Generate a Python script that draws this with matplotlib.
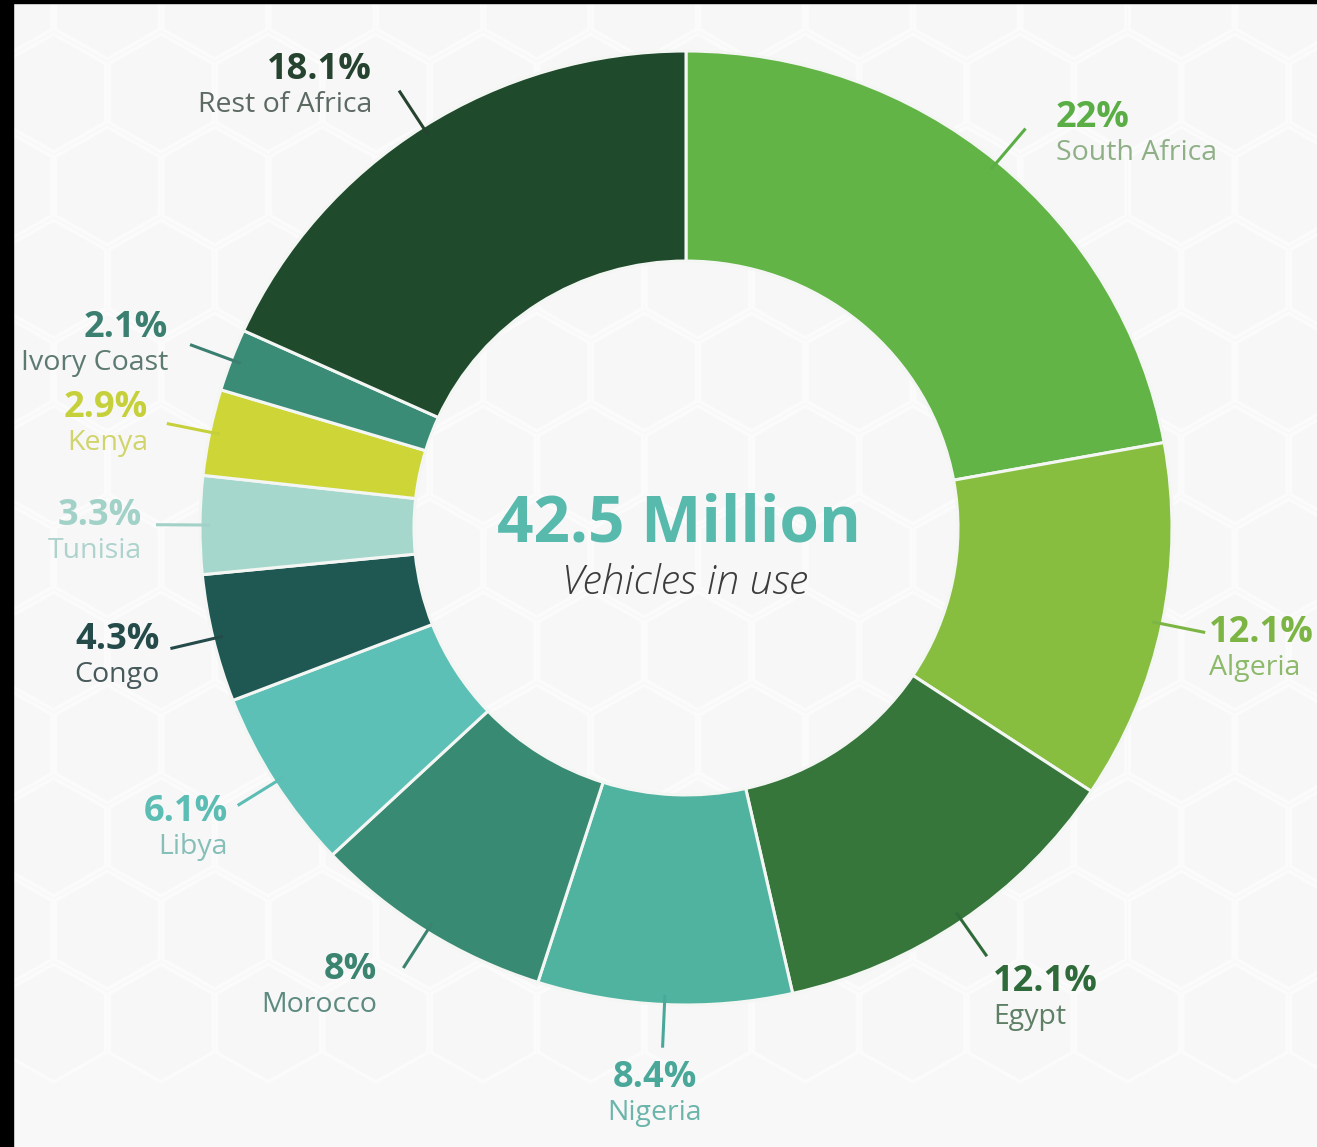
import numpy as np
import matplotlib.pyplot as plt
from matplotlib.patches import Rectangle, RegularPolygon

plt.rcParams["font.family"] = ["Open Sans", "DejaVu Sans"]

W, H = 1317, 1147

# share of vehicles in use, clockwise from 12 o'clock
countries = ["South Africa", "Algeria", "Egypt", "Nigeria", "Morocco", "Libya",
             "Congo", "Tunisia", "Kenya", "Ivory Coast", "Rest of Africa"]
shares = [22, 12.1, 12.1, 8.4, 8, 6.1, 4.3, 3.3, 2.9, 2.1, 18.1]
total_label = "42.5 Million"
sub_label = "Vehicles in use"

slice_colors = ["#62b446", "#87be3f", "#36763b", "#50b3a0", "#398a73", "#5cc0b6",
                "#1f5753", "#a5d7cd", "#cdd636", "#3a8c77", "#1f4a2b"]
pct_colors = ["#5aae45", "#7db545", "#2f6b3a", "#4aa89a", "#3a8470", "#5bbdb3",
              "#244b4a", "#a2d1c8", "#c6d03a", "#3b7f70", "#25432f"]
name_colors = ["#8fb087", "#8cba6a", "#5f7f66", "#6bb5ab", "#5d8a80", "#86bfb8",
               "#47595a", "#aed3cc", "#d0d46a", "#5d7a72", "#5c6a62"]

# label anchor (pixels), alignment
label_pos = [(1056, 118, "left"), (1209, 633, "left"), (993, 982, "left"),
             (655, 1078, "center"), (377, 970, "right"), (228, 812, "right"),
             (160, 640, "right"), (142, 516, "right"), (148, 408, "right"),
             (168, 328, "right"), (372, 70, "right")]

# ring is a touch wider than tall, so y data units are stretched by k
k = 486 / 477
cx, cy = 686, 528 * k
R, r_in = 486, 272
bg = "#f8f8f8"

fig = plt.figure(figsize=(W / 100, H / 100), dpi=100, facecolor=bg)
ax = fig.add_axes([0, 0, 1, 1])
ax.set_facecolor(bg)

# very faint honeycomb backdrop
hr = 62
for row in range(-1, 12):
    for col in range(-1, 13):
        hx = col * hr * np.sqrt(3) + (row % 2) * hr * np.sqrt(3) / 2
        hy = row * hr * 1.5 * k
        ax.add_patch(RegularPolygon((hx, hy), 6, radius=hr - 2, orientation=0,
                                    facecolor="#f7f7f7", edgecolor="#fbfbfb",
                                    lw=2.5, zorder=0))

wedges, _ = ax.pie(shares, colors=slice_colors, startangle=-90, counterclock=True,
                   center=(cx, cy), radius=R,
                   wedgeprops=dict(width=R - r_in, edgecolor="#f4f6f4", linewidth=2.2))

ax.set_xlim(0, W)
ax.set_ylim(H * k, 0)
ax.set_aspect("auto")
ax.axis("off")

for i, w in enumerate(wedges):
    mid = np.deg2rad((w.theta1 + w.theta2) / 2)
    r0, r1 = R - 10, R + 44
    ax.plot([cx + r0 * np.cos(mid), cx + r1 * np.cos(mid)],
            [cy + r0 * np.sin(mid), cy + r1 * np.sin(mid)],
            color=pct_colors[i], lw=2.2, solid_capstyle="butt")
    x, y, ha = label_pos[i]
    ax.text(x, y * k, f"{shares[i]:g}%", ha=ha, va="center", fontsize=26,
            fontweight="bold", color=pct_colors[i])
    ax.text(x, (y + 35) * k, countries[i], ha=ha, va="center", fontsize=20.5,
            color=name_colors[i])

ax.text(679, 525 * k, total_label, ha="center", va="center", fontsize=46,
        fontweight="bold", color="#58b9ad")
ax.text(685, 583 * k, sub_label, ha="center", va="center", fontsize=29.5,
        style="italic", fontweight="light", color="#3c3c3c")

# dark frame along left and top edges
fig.patches.append(Rectangle((0, 0), 13 / W, 1, transform=fig.transFigure,
                             color="black", zorder=10))
fig.patches.append(Rectangle((0, 1 - 3 / H), 1, 3 / H, transform=fig.transFigure,
                             color="black", zorder=10))

fig.savefig("out.png", dpi=100, facecolor=bg)
